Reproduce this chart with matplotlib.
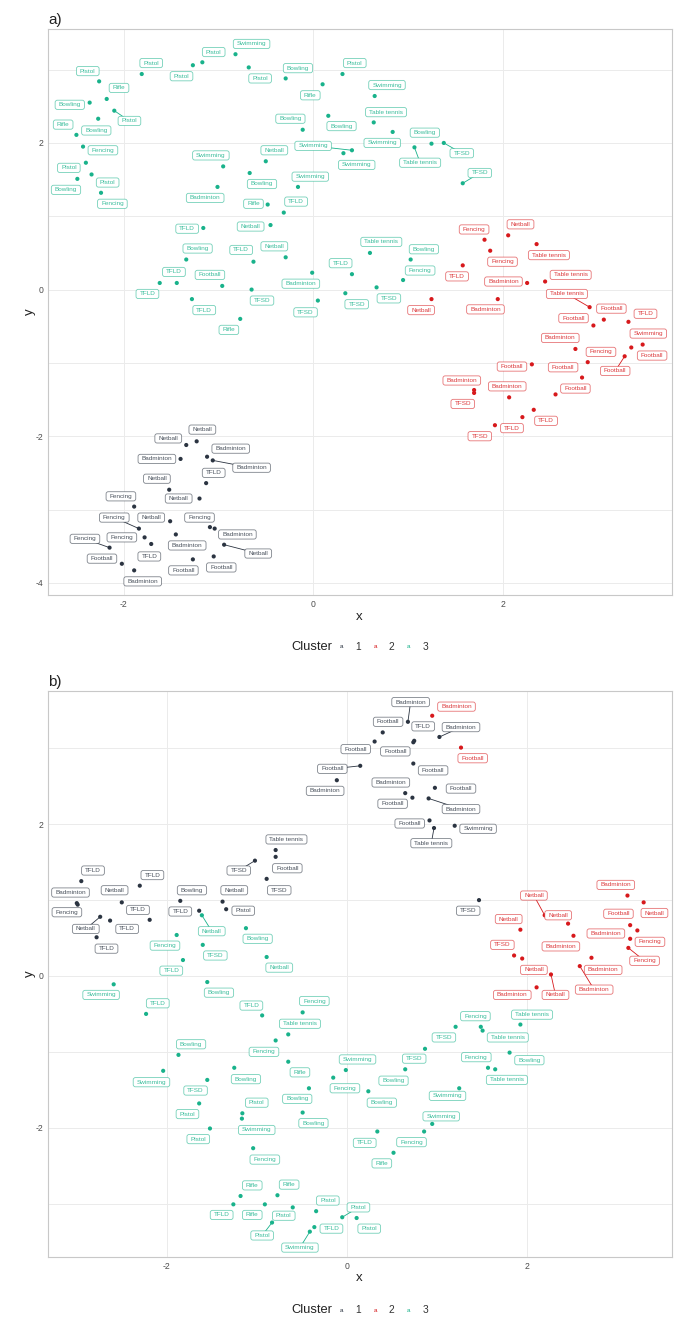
import matplotlib
matplotlib.use('Agg')
import matplotlib.pyplot as plt
from matplotlib.patches import BoxStyle
from matplotlib.colors import to_rgba

plt.rcParams['font.family'] = ['Liberation Sans', 'DejaVu Sans']
plt.rcParams['axes.unicode_minus'] = False

colors = {1: '#2b3441', 2: '#d7191c', 3: '#19b28b'}
clusters = [1, 2, 3]

# ---------------- panel a ----------------
a_label = [
    # cluster 3
    'Pistol', 'Rifle', 'Bowling', 'Pistol', 'Rifle', 'Bowling', 'Fencing', 'Pistol', 'Bowling', 'Pistol',
    'Fencing', 'Pistol', 'Pistol', 'Pistol', 'Swimming', 'Pistol', 'Swimming', 'Badminton', 'TFLD', 'Bowling',
    'TFLD', 'TFLD', 'Football', 'TFLD', 'Rifle', 'Bowling', 'Pistol', 'Rifle', 'Swimming', 'Bowling',
    'Bowling', 'Table tennis', 'Swimming', 'Bowling', 'Table tennis', 'TFSD', 'Swimming', 'Swimming', 'Netball', 'Bowling',
    'Swimming', 'Rifle', 'TFLD', 'Netball', 'Netball', 'TFLD', 'Table tennis', 'Bowling', 'TFLD', 'Badminton',
    'Fencing', 'TFSD', 'TFSD', 'TFSD', 'TFSD', 'TFSD',
    # cluster 1
    'Netball', 'Netball', 'Badminton', 'Badminton', 'Badminton', 'TFLD', 'Netball', 'Netball', 'Fencing', 'Fencing',
    'Netball', 'Fencing', 'Badminton', 'Fencing', 'TFLD', 'Fencing', 'Badminton', 'Netball', 'Football', 'Badminton',
    'Football', 'Football',
    # cluster 2
    'Fencing', 'Netball', 'Fencing', 'Table tennis', 'TFLD', 'Badminton', 'Table tennis', 'Table tennis', 'Badminton', 'Netball',
    'Football', 'TFLD', 'Football', 'Badminton', 'Swimming', 'Fencing', 'Football', 'Football', 'Football', 'Football',
    'Badminton', 'TFSD', 'Badminton', 'Football', 'TFLD', 'TFLD', 'TFSD',
]
a_cluster = [3] * 56 + [1] * 22 + [2] * 27
a_x = [
    -2.26, -2.18, -2.36, -2.10, -2.50, -2.27, -2.43, -2.40, -2.49, -2.34,
    -2.24, -1.81, -1.27, -1.17, -0.82, -0.68, -0.95, -1.01, -1.16, -1.34,
    -1.44, -1.62, -0.96, -1.28, -0.77, -0.29, 0.31, 0.10, 0.65, -0.11,
    0.16, 0.64, 0.84, 1.25, 1.07, 1.38, 0.41, 0.32, -0.50, -0.67,
    -0.16, -0.48, -0.31, -0.45, -0.29, -0.63, 0.60, 1.03, 0.41, -0.01,
    0.95, -0.65, 0.05, 0.34, 0.67, 1.58,
    -1.23, -1.34, -1.40, -1.12, -1.06, -1.13, -1.52, -1.20, -1.89, -1.84,
    -1.51, -1.09, -1.04, -1.78, -1.71, -2.15, -1.45, -0.94, -2.02, -1.89,
    -1.27, -1.05,
    1.81, 2.06, 1.87, 2.36, 1.58, 2.26, 2.45, 2.92, 1.95, 1.25,
    3.07, 3.33, 2.96, 2.77, 3.48, 2.90, 3.36, 3.29, 2.31, 2.84,
    1.70, 1.70, 2.07, 2.56, 2.33, 2.21, 1.92,
]
a_y = [
    2.84, 2.60, 2.55, 2.44, 2.11, 2.33, 1.95, 1.73, 1.51, 1.57,
    1.32, 2.94, 3.06, 3.10, 3.21, 3.03, 1.68, 1.40, 0.84, 0.41,
    0.09, 0.09, 0.05, -0.13, -0.40, 2.88, 2.94, 2.80, 2.64, 2.18,
    2.37, 2.28, 2.15, 1.99, 1.94, 2.00, 1.90, 1.86, 1.75, 1.59,
    1.40, 1.16, 1.05, 0.88, 0.44, 0.38, 0.50, 0.41, 0.21, 0.23,
    0.13, 0.00, -0.15, -0.05, 0.03, 1.45,
    -2.07, -2.12, -2.31, -2.28, -2.33, -2.64, -2.73, -2.85, -2.96, -3.26,
    -3.16, -3.24, -3.26, -3.38, -3.47, -3.52, -3.34, -3.48, -3.74, -3.83,
    -3.68, -3.64,
    0.68, 0.74, 0.53, 0.62, 0.33, 0.09, 0.11, -0.24, -0.13, -0.13,
    -0.41, -0.44, -0.49, -0.81, -0.75, -0.99, -0.79, -0.91, -1.02, -1.20,
    -1.37, -1.41, -1.47, -1.43, -1.64, -1.74, -1.85,
]
a_lx = [
    -2.38, -2.05, -2.57, -1.94, -2.64, -2.29, -2.22, -2.58, -2.61, -2.17,
    -2.12, -1.71, -1.39, -1.05, -0.65, -0.56, -1.08, -1.14, -1.33, -1.22,
    -1.47, -1.75, -1.09, -1.15, -0.89, -0.16, 0.44, -0.03, 0.78, -0.24,
    0.30, 0.77, 0.73, 1.18, 1.13, 1.57, 0.00, 0.46, -0.41, -0.54,
    -0.03, -0.63, -0.18, -0.66, -0.41, -0.76, 0.72, 1.17, 0.29, -0.13,
    1.13, -0.54, -0.08, 0.46, 0.80, 1.76,
    -1.17, -1.53, -1.65, -0.87, -0.65, -1.05, -1.65, -1.42, -2.03, -2.10,
    -1.71, -1.20, -0.80, -2.02, -1.73, -2.41, -1.33, -0.58, -2.23, -1.80,
    -1.37, -0.97,
    1.70, 2.19, 2.00, 2.49, 1.52, 2.01, 2.72, 2.68, 1.82, 1.14,
    3.15, 3.51, 2.75, 2.61, 3.54, 3.04, 3.58, 3.19, 2.10, 2.64,
    1.57, 1.58, 2.05, 2.77, 2.46, 2.10, 1.76,
]
a_ly = [
    2.98, 2.75, 2.52, 2.30, 2.25, 2.17, 1.90, 1.66, 1.36, 1.46,
    1.17, 3.09, 2.91, 3.24, 3.35, 2.88, 1.83, 1.25, 0.83, 0.56,
    0.24, -0.06, 0.20, -0.28, -0.55, 3.02, 3.09, 2.65, 2.79, 2.33,
    2.23, 2.42, 2.00, 2.14, 1.73, 1.86, 1.96, 1.70, 1.90, 1.44,
    1.54, 1.17, 1.20, 0.86, 0.59, 0.54, 0.65, 0.55, 0.36, 0.08,
    0.26, -0.15, -0.31, -0.20, -0.12, 1.59,
    -1.91, -2.03, -2.31, -2.17, -2.43, -2.50, -2.58, -2.85, -2.82, -3.11,
    -3.11, -3.11, -3.34, -3.38, -3.64, -3.40, -3.49, -3.60, -3.67, -3.98,
    -3.83, -3.79,
    0.82, 0.89, 0.38, 0.47, 0.18, 0.11, 0.20, -0.06, -0.27, -0.28,
    -0.26, -0.33, -0.39, -0.66, -0.60, -0.85, -0.90, -1.11, -1.05, -1.06,
    -1.24, -1.56, -1.32, -1.35, -1.79, -1.89, -2.00,
]
a_lead = [3, 34, 35, 36, 55, 60, 65, 71, 73, 85, 95]  # labels joined to their point

# ---------------- panel b ----------------
b_label = [
    # cluster 3
    'Netball', 'Fencing', 'TFSD', 'TFLD', 'Bowling', 'Netball', 'Swimming', 'Bowling', 'TFLD', 'TFLD',
    'Bowling', 'Swimming', 'Bowling', 'TFSD', 'Pistol', 'Pistol', 'Swimming', 'Pistol', 'Fencing', 'Rifle',
    'TFLD', 'Rifle', 'Rifle', 'Pistol', 'Pistol', 'Pistol', 'TFLD', 'Swimming', 'Pistol', 'Pistol',
    'Fencing', 'Table tennis', 'Fencing', 'Rifle', 'Bowling', 'Bowling', 'Swimming', 'Fencing', 'Bowling', 'TFSD',
    'TFSD', 'Bowling', 'Swimming', 'Swimming', 'Fencing', 'TFLD', 'Rifle', 'Fencing', 'Table tennis', 'Table tennis',
    'Bowling', 'Fencing', 'Table tennis',
    # cluster 1
    'TFLD', 'Badminton', 'Fencing', 'Netball', 'TFLD', 'TFLD', 'Netball', 'TFLD', 'TFLD', 'Bowling',
    'TFLD', 'Netball', 'Pistol', 'TFSD', 'Table tennis', 'Football', 'TFSD', 'TFSD', 'Badminton', 'Football',
    'Football', 'TFLD', 'Football', 'Football', 'Football', 'Badminton', 'Badminton', 'Badminton', 'Football', 'Football',
    'Badminton', 'Football', 'Table tennis', 'Swimming',
    # cluster 2
    'Badminton', 'Football', 'Badminton', 'Netball', 'Netball', 'Netball', 'Netball', 'Football', 'Fencing', 'Badminton',
    'Badminton', 'Fencing', 'TFSD', 'Netball', 'Badminton', 'Netball', 'Badminton', 'Badminton',
]
b_cluster = [3] * 53 + [1] * 34 + [2] * 18
b_x = [
    -1.61, -1.89, -1.60, -1.82, -1.12, -0.89, -2.59, -1.55, -2.23, -0.94,
    -1.87, -2.04, -1.25, -1.55, -1.64, -1.16, -1.165, -1.52, -1.04, -1.18,
    -1.26, -0.91, -0.77, -0.60, -0.83, -0.34, -0.36, -0.41, -0.05, 0.11,
    -0.49, -0.65, -0.79, -0.65, -0.42, -0.49, -0.01, -0.15, 0.24, 1.21,
    0.87, 0.65, 1.25, 0.95, 0.86, 0.34, 0.52, 1.49, 1.51, 1.93,
    1.81, 1.57, 1.65,
    -2.95, -3.00, -2.99, -2.50, -2.30, -2.19, -2.74, -2.63, -2.78, -1.85,
    -1.64, -1.38, -1.34, -1.02, -0.79, -0.79, -0.89, 1.47, 0.68, 0.40,
    0.31, 0.75, 0.74, 0.74, 0.15, -0.11, 1.03, 0.65, 0.73, 0.98,
    0.91, 0.92, 0.97, 1.20,
    0.95, 1.27, 3.12, 3.30, 2.20, 2.46, 1.93, 3.15, 3.23, 3.15,
    2.52, 3.13, 1.86, 1.95, 2.72, 2.27, 2.11, 2.59,
]
b_y = [
    0.80, 0.54, 0.41, 0.21, 0.63, 0.25, -0.11, -0.08, -0.50, -0.52,
    -1.04, -1.25, -1.21, -1.37, -1.68, -1.81, -1.88, -2.01, -2.27, -2.90,
    -3.01, -3.01, -2.89, -3.05, -3.25, -3.10, -3.31, -3.37, -3.18, -3.19,
    -0.48, -0.77, -0.85, -1.13, -1.48, -1.80, -1.24, -1.34, -1.52, -0.67,
    -0.96, -1.23, -1.48, -1.95, -2.05, -2.05, -2.33, -0.67, -0.72, -0.64,
    -1.01, -1.21, -1.23,
    1.25, 0.96, 0.94, 0.97, 1.19, 0.74, 0.78, 0.73, 0.51, 0.99,
    0.86, 0.98, 0.88, 1.52, 1.66, 1.57, 1.28, 1.00, 3.35, 3.21,
    3.09, 3.10, 3.08, 2.80, 2.77, 2.58, 3.15, 2.41, 2.35, 2.48,
    2.34, 2.05, 1.95, 1.98,
    3.43, 3.01, 1.06, 0.97, 0.80, 0.69, 0.61, 0.67, 0.60, 0.49,
    0.53, 0.37, 0.27, 0.23, 0.24, 0.02, -0.15, 0.13,
]
b_lx = [
    -1.50, -2.02, -1.46, -1.95, -0.99, -0.75, -2.73, -1.42, -2.10, -1.06,
    -1.73, -2.17, -1.12, -1.68, -1.77, -1.00, -1.00, -1.65, -0.91, -1.05,
    -1.39, -1.05, -0.64, -0.70, -0.94, -0.21, -0.17, -0.52, 0.13, 0.25,
    -0.36, -0.52, -0.92, -0.52, -0.55, -0.37, 0.12, -0.02, 0.39, 1.08,
    0.75, 0.52, 1.12, 1.05, 0.72, 0.20, 0.39, 1.43, 1.79, 2.06,
    2.03, 1.44, 1.78,
    -2.82, -3.07, -3.11, -2.58, -2.16, -2.32, -2.90, -2.44, -2.67, -1.72,
    -1.85, -1.25, -1.15, -1.20, -0.67, -0.66, -0.75, 1.35, 0.71, 0.46,
    0.10, 0.85, 0.54, 0.96, -0.16, -0.24, 1.27, 0.49, 0.51, 1.27,
    1.27, 0.70, 0.94, 1.46,
    1.22, 1.40, 2.99, 3.42, 2.08, 2.35, 1.80, 3.02, 3.37, 2.88,
    2.38, 3.31, 1.73, 2.08, 2.85, 2.32, 1.84, 2.75,
]
b_ly = [
    0.59, 0.40, 0.27, 0.07, 0.49, 0.11, -0.25, -0.22, -0.36, -0.39,
    -0.90, -1.40, -1.36, -1.51, -1.82, -1.67, -2.03, -2.15, -2.42, -2.76,
    -3.15, -3.15, -2.75, -3.16, -3.42, -2.96, -3.33, -3.58, -3.05, -3.33,
    -0.33, -0.63, -1.00, -1.27, -1.62, -1.94, -1.10, -1.48, -1.67, -0.81,
    -1.09, -1.38, -1.58, -1.85, -2.19, -2.20, -2.47, -0.53, -0.81, -0.51,
    -1.11, -1.07, -1.37,
    1.39, 1.10, 0.84, 1.13, 1.33, 0.87, 0.62, 0.62, 0.36, 1.13,
    0.85, 1.13, 0.86, 1.39, 1.80, 1.42, 1.13, 0.86, 3.61, 3.35,
    2.99, 3.29, 2.96, 2.71, 2.73, 2.44, 3.28, 2.55, 2.27, 2.47,
    2.20, 2.01, 1.75, 1.94,
    3.55, 2.87, 1.20, 0.83, 1.06, 0.80, 0.75, 0.82, 0.45, 0.56,
    0.39, 0.20, 0.41, 0.08, 0.08, -0.25, -0.25, -0.18,
]
b_lead = [0, 24, 27, 28, 59, 66, 71, 77, 79, 83, 85, 91, 98, 102, 104]

ticks = [-4, -2, 0, 2]
minor_y = [-3, -1, 1, 3]


class LabelBox:
    # rounded box, wider padding left/right than top/bottom
    def __call__(self, x0, y0, width, height, mutation_size):
        px = 0.55 * mutation_size
        py = 0.33 * mutation_size
        rnd = BoxStyle.Round(pad=0, rounding_size=0.35)
        return rnd(x0 - px, y0 - py, width + 2 * px, height + 2 * py, mutation_size)


def draw_panel(ax, label, cluster, x, y, lx, ly, lead, xlim, ylim):
    ax.set_xlim(xlim)
    ax.set_ylim(ylim)
    ax.set_xticks([t for t in ticks if xlim[0] < t < xlim[1]])
    ax.set_yticks([t for t in ticks if ylim[0] < t < ylim[1]])
    ax.set_yticks(minor_y, minor=True)
    ax.grid(True, which='major', color='#ebebeb', lw=0.7)
    ax.grid(True, which='minor', axis='y', color='#ebebeb', lw=0.7)
    ax.set_axisbelow(True)
    ax.tick_params(which='both', length=0, labelsize=6.2, colors='#4d4d4d', pad=3.5)
    for s in ax.spines.values():
        s.set_color('#c8c8c8')
        s.set_linewidth(0.8)

    for i in lead:
        ax.plot([x[i], lx[i]], [y[i], ly[i]], color=colors[cluster[i]], lw=0.6, zorder=2)
    ax.scatter(x, y, s=9, c=[colors[c] for c in cluster], linewidths=0, zorder=3)
    for i in range(len(label)):
        c = colors[cluster[i]]
        ax.text(lx[i], ly[i], label[i], ha='center', va='center', fontsize=4.6,
                color=to_rgba(c, 0.85), zorder=4,
                bbox=dict(boxstyle=LabelBox(), fc='white', ec=to_rgba(c, 0.6), lw=0.6))


def legend(fig, yfig):
    fig.text(291.7 / 692, yfig, 'Cluster', ha='left', va='center', fontsize=9.3, color='#222222')
    keys_x = [341, 375, 408.3]
    labs_x = [358.3, 391.7, 425.3]
    for c, kx, tx in zip(clusters, keys_x, labs_x):
        fig.text(kx / 692, yfig, 'a', ha='center', va='center', fontsize=4.5, color=colors[c])
        fig.text(tx / 692, yfig, str(c), ha='center', va='center', fontsize=7.4, color='#333333')


fig = plt.figure(figsize=(6.92, 13.34), dpi=100)

ax_a = fig.add_axes([48 / 692, 1 - 595.3 / 1334, 624 / 692, 566 / 1334])
draw_panel(ax_a, a_label, a_cluster, a_x, a_y, a_lx, a_ly, a_lead, (-2.80, 3.79), (-4.17, 3.55))
fig.text(48 / 692, 1 - 20 / 1334, 'a)', ha='left', va='center', fontsize=11, color='#222222')
fig.text(359.5 / 692, 1 - 616.7 / 1334, 'x', ha='center', va='center', fontsize=9.5, color='#222222')
fig.text(30 / 692, 1 - 312 / 1334, 'y', ha='center', va='center', fontsize=9.5, rotation=90, color='#222222')
legend(fig, 1 - 646.7 / 1334)

ax_b = fig.add_axes([48 / 692, 1 - 1256.7 / 1334, 624 / 692, 566 / 1334])
draw_panel(ax_b, b_label, b_cluster, b_x, b_y, b_lx, b_ly, b_lead, (-3.32, 3.615), (-3.70, 3.76))
fig.text(48 / 692, 1 - 681.5 / 1334, 'b)', ha='left', va='center', fontsize=11, color='#222222')
fig.text(359.5 / 692, 1 - 1278 / 1334, 'x', ha='center', va='center', fontsize=9.5, color='#222222')
fig.text(30 / 692, 1 - 973.7 / 1334, 'y', ha='center', va='center', fontsize=9.5, rotation=90, color='#222222')
legend(fig, 1 - 1310 / 1334)

plt.savefig('out.png', dpi=100)
